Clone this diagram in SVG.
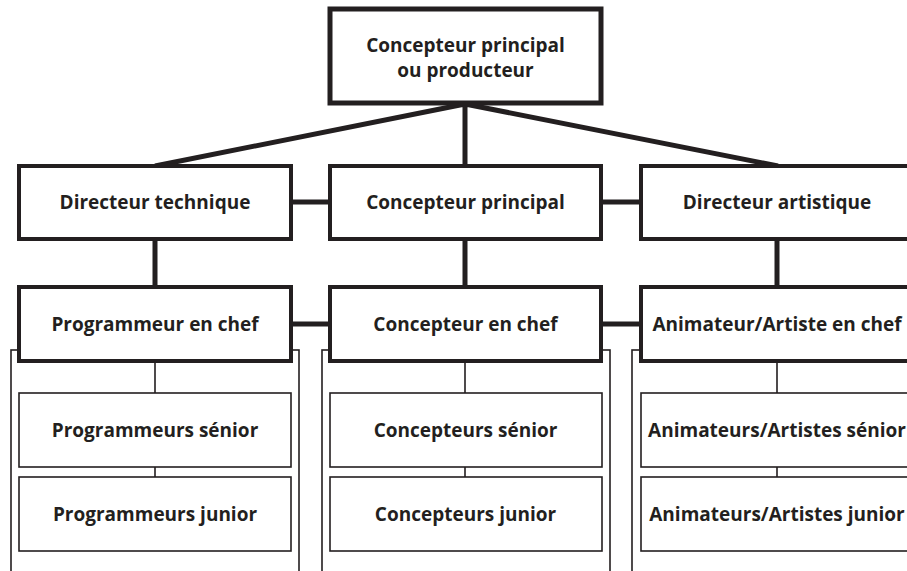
<svg xmlns="http://www.w3.org/2000/svg" width="907" height="571" viewBox="0 0 907 571">
<style>
.thick{fill:#fff;stroke:#231f20;stroke-width:4}
.top{fill:#fff;stroke:#231f20;stroke-width:5}
.thin{fill:#fff;stroke:#231f20;stroke-width:1.6}
.grp{fill:none;stroke:#231f20;stroke-width:1.6}
.c{fill:none;stroke:#231f20;stroke-width:5}
.ct{fill:none;stroke:#231f20;stroke-width:1.6}
text{font-family:"Open Sans","Noto Sans",sans-serif;font-weight:700;font-size:19px;fill:#231f20;text-anchor:middle}
</style>
<rect width="907" height="571" fill="#fff"/>
<g id="groups">
<rect class="grp" x="11" y="350" width="288" height="240"/>
<rect class="grp" x="322" y="350" width="288" height="240"/>
<rect class="grp" x="632" y="350" width="288" height="240"/>
</g>
<g id="connectors">
<path class="c" d="M465,104 L155,166 M465,104 L778,166 M465,104 V166"/>
<path class="c" d="M291,202 H330 M601,202 H641 M291,324 H330 M601,324 H641"/>
<path class="c" d="M155,239 V287 M465,239 V287 M777,239 V287"/>
<path class="ct" d="M155,361 V393 M155,467 V477 M465,361 V393 M465,467 V477 M777,361 V393 M777,467 V477"/>
</g>
<g id="n-top">
<rect class="top" x="330" y="9" width="271" height="94"/>
<text x="465.5" y="52">Concepteur principal</text>
<text x="465.5" y="77">ou producteur</text>
</g>
<g id="n-dt"><rect class="thick" x="19" y="166" width="272" height="73"/><text x="155" y="209">Directeur technique</text></g>
<g id="n-cp"><rect class="thick" x="330" y="166" width="271" height="73"/><text x="465.5" y="209">Concepteur principal</text></g>
<g id="n-da"><rect class="thick" x="641" y="166" width="272" height="73"/><text x="777" y="209">Directeur artistique</text></g>
<g id="n-pc"><rect class="thick" x="19" y="287" width="272" height="74"/><text x="155" y="331">Programmeur en chef</text></g>
<g id="n-cc"><rect class="thick" x="330" y="287" width="271" height="74"/><text x="465.5" y="331">Concepteur en chef</text></g>
<g id="n-ac"><rect class="thick" x="641" y="287" width="272" height="74"/><text x="777" y="331">Animateur/Artiste en chef</text></g>
<g id="n-ps"><rect class="thin" x="19" y="393" width="272" height="74"/><text x="155" y="437">Programmeurs sénior</text></g>
<g id="n-cs"><rect class="thin" x="330" y="393" width="272" height="74"/><text x="465.5" y="437">Concepteurs sénior</text></g>
<g id="n-as"><rect class="thin" x="641" y="393" width="272" height="74"/><text x="777" y="437">Animateurs/Artistes sénior</text></g>
<g id="n-pj"><rect class="thin" x="19" y="477" width="272" height="74"/><text x="155" y="521">Programmeurs junior</text></g>
<g id="n-cj"><rect class="thin" x="330" y="477" width="272" height="74"/><text x="465.5" y="521">Concepteurs junior</text></g>
<g id="n-aj"><rect class="thin" x="641" y="477" width="272" height="74"/><text x="777" y="521">Animateurs/Artistes junior</text></g>
</svg>
